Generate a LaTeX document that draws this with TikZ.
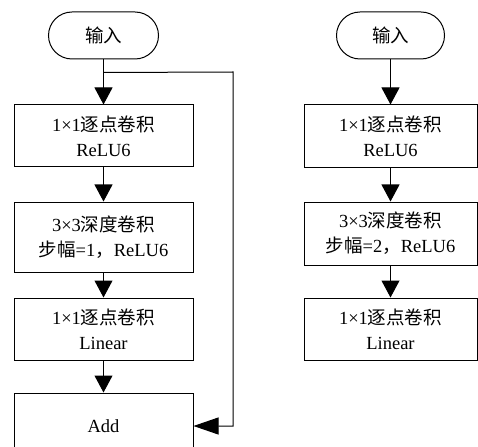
\documentclass[tikz,border=0pt]{standalone}
\usepackage{fontspec}
\setmainfont{Liberation Serif}
\newfontfamily\cjk{Noto Sans CJK SC}
\usetikzlibrary{arrows.meta,shapes.misc,positioning}

\begin{document}
\begin{tikzpicture}[
  x=1pt, y=-1pt,
  font=\fontsize{18.5}{25}\selectfont,
  box/.style={rectangle, draw, line width=1pt, minimum width=179pt, minimum height=62pt, align=center, inner sep=0pt},
  term/.style={rounded rectangle, draw, line width=1pt, minimum width=110pt, minimum height=47pt, inner sep=0pt},
  arrow/.style={-{Triangle[length=17pt,width=18pt]}, line width=1pt},
  sidearrow/.style={-{Triangle[length=25pt,width=17pt]}, line width=1pt}
]
\useasboundingbox (0,0) rectangle (478,446);
\clip (0,0) rectangle (478,446);

% stride 1, with shortcut
\node[term] (inL) at (103.5,35.5) {{\cjk 输入}};
\node[box, below=45pt of inL] (pwL) {1×1{\cjk 逐点卷积}\\ReLU6};
\node[box, below=34pt of pwL, minimum height=70pt] (dwL) {3×3{\cjk 深度卷积}\\{\cjk 步幅}=1{\cjk ，}ReLU6};
\node[box, below=25pt of dwL] (linL) {1×1{\cjk 逐点卷积}\\Linear};
\node[box, below=32pt of linL, minimum height=66pt] (add) {Add};
\coordinate[below=13pt of inL] (brL);
\coordinate (skip) at (233,72);

\draw[arrow] (inL) -- (pwL);
\draw[arrow] (pwL) -- (dwL);
\draw[arrow] (dwL) -- (linL);
\draw[arrow] (linL) -- (add);
\draw[sidearrow] (brL) -- (skip) |- (add.east);

% stride 2
\node[term, minimum width=108pt] (inR) at (390.5,35.5) {{\cjk 输入}};
\node[box, below=45pt of inR, minimum width=173pt, minimum height=63pt] (pwR) {1×1{\cjk 逐点卷积}\\ReLU6};
\node[box, below=33pt of pwR, minimum width=173pt, minimum height=63pt] (dwR) {3×3{\cjk 深度卷积}\\{\cjk 步幅}=2{\cjk ，}ReLU6};
\node[box, below=32pt of dwR, minimum width=173pt] (linR) {1×1{\cjk 逐点卷积}\\Linear};

\draw[arrow] (inR) -- (pwR);
\draw[arrow] (pwR) -- (dwR);
\draw[arrow] (dwR) -- (linR);

\end{tikzpicture}
\end{document}
